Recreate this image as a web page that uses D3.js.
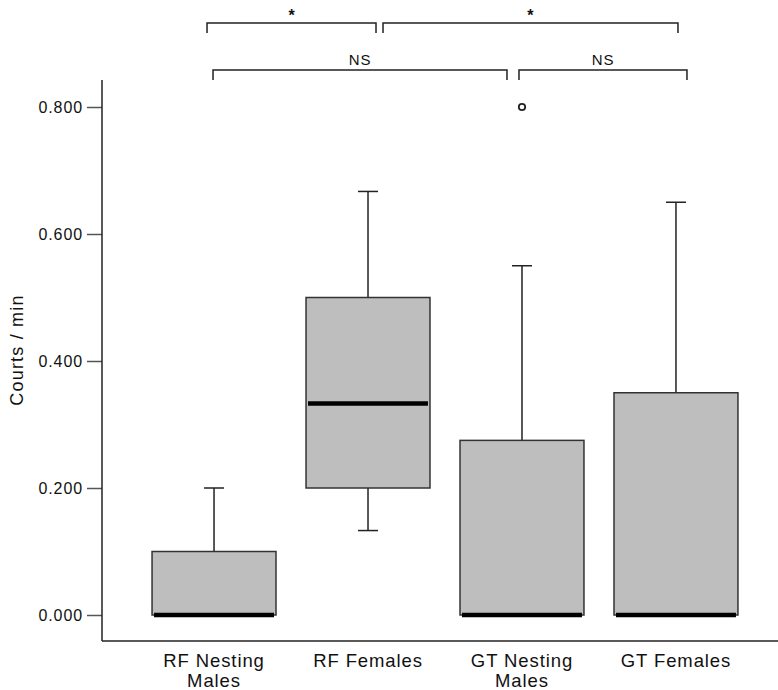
<!DOCTYPE html>
<html>
<head>
<meta charset="utf-8">
<script src="https://cdn.jsdelivr.net/npm/d3@7"></script>
<style>
body { margin: 0; background: #fff; }
text { font-family: "Liberation Sans", Arial, sans-serif; }
</style>
</head>
<body>
<script>
var width = 778, height = 690;

var groups = ["RF Nesting Males", "RF Females", "GT Nesting Males", "GT Females"];
var labelLines = [["RF Nesting", "Males"], ["RF Females"], ["GT Nesting", "Males"], ["GT Females"]];
var q1 = [0, 0.2, 0, 0];
var median = [0, 0.333, 0, 0];
var q3 = [0.1, 0.5, 0.275, 0.35];
var whiskLo = [0, 0.133, 0, 0];
var whiskHi = [0.2, 0.667, 0.55, 0.65];
var outliers = [[], [], [0.8], []];
var yTicks = [0, 0.2, 0.4, 0.6, 0.8];

// comparisons: [from group, to group, row, label]
var comparisons = [
    [0, 1, 0, "*"],
    [1, 3, 0, "*"],
    [0, 2, 1, "NS"],
    [2, 3, 1, "NS"]
];

var svg = d3.select("body")
.append("svg")
.attr("width", width)
.attr("height", height)
.attr("id", "svg");

var x = d3.scaleBand()
.domain(groups)
.range([102, 788])
.paddingInner(0.195)
.paddingOuter(0.325);

var y = d3.scaleLinear()
.domain([0, 0.8])
.range([615, 107]);

var yAxis = d3.axisLeft(y)
.tickValues(yTicks)
.tickFormat(d3.format(".3f"))
.tickSize(15)
.tickSizeOuter(0)
.tickPadding(4);

var axisG = svg.append("g")
.attr("transform", "translate(102,0)")
.call(yAxis);
axisG.select(".domain").remove();
axisG.selectAll(".tick line").attr("stroke", "#555").attr("stroke-width", 1.5);
axisG.selectAll(".tick text")
.attr("font-size", 16)
.attr("letter-spacing", 0.9)
.attr("fill", "#111");

// axis frame lines
svg.append("line")
.attr("x1", 102).attr("x2", 102)
.attr("y1", 80).attr("y2", 641)
.attr("stroke", "#222").attr("stroke-width", 1.5);
svg.append("line")
.attr("x1", 102).attr("x2", width)
.attr("y1", 641).attr("y2", 641)
.attr("stroke", "#222").attr("stroke-width", 1.5);

// y title
svg.append("text")
.attr("transform", "translate(23,350) rotate(-90)")
.attr("text-anchor", "middle")
.attr("font-size", 18)
.attr("letter-spacing", 1.2)
.attr("fill", "#111")
.text("Courts / min");

var bw = x.bandwidth();
var capW = 20;
var boxes = svg.selectAll(".box")
.data(groups)
.enter().append("g")
.attr("class", "box");

boxes.each(function(g, i){
    var sel = d3.select(this);
    var cx = x(g) + bw / 2;
    // whiskers
    if (whiskHi[i] > q3[i]) {
        sel.append("line").attr("x1", cx).attr("x2", cx)
        .attr("y1", y(q3[i])).attr("y2", y(whiskHi[i]))
        .attr("stroke", "#222").attr("stroke-width", 1.5);
        sel.append("line").attr("x1", cx - capW / 2).attr("x2", cx + capW / 2)
        .attr("y1", y(whiskHi[i])).attr("y2", y(whiskHi[i]))
        .attr("stroke", "#222").attr("stroke-width", 1.5);
    }
    if (whiskLo[i] < q1[i]) {
        sel.append("line").attr("x1", cx).attr("x2", cx)
        .attr("y1", y(q1[i])).attr("y2", y(whiskLo[i]))
        .attr("stroke", "#222").attr("stroke-width", 1.5);
        sel.append("line").attr("x1", cx - capW / 2).attr("x2", cx + capW / 2)
        .attr("y1", y(whiskLo[i])).attr("y2", y(whiskLo[i]))
        .attr("stroke", "#222").attr("stroke-width", 1.5);
    }
    sel.append("rect")
    .attr("x", x(g))
    .attr("y", y(q3[i]))
    .attr("width", bw)
    .attr("height", y(q1[i]) - y(q3[i]))
    .attr("fill", "#bebebe")
    .attr("stroke", "#333")
    .attr("stroke-width", 1.5);
    sel.append("line")
    .attr("x1", x(g) + 2).attr("x2", x(g) + bw - 2)
    .attr("y1", y(median[i])).attr("y2", y(median[i]))
    .attr("stroke", "#000").attr("stroke-width", 4.5);
    outliers[i].forEach(function(v){
        sel.append("circle")
        .attr("cx", cx).attr("cy", y(v)).attr("r", 3.2)
        .attr("fill", "none").attr("stroke", "#222").attr("stroke-width", 1.8);
    });
});

// category labels
var labels = svg.selectAll(".cat")
.data(groups)
.enter().append("text")
.attr("class", "cat")
.attr("text-anchor", "middle")
.attr("font-size", 18.5)
.attr("letter-spacing", 0.9)
.attr("fill", "#111")
.attr("x", function(g){ return x(g) + bw / 2; })
.attr("y", 667);
labels.each(function(g, i){
    var t = d3.select(this);
    labelLines[i].forEach(function(line, k){
        t.append("tspan")
        .attr("x", x(g) + bw / 2)
        .attr("dy", k === 0 ? 0 : 20)
        .text(line);
    });
});

// significance brackets
var rowY = [23, 70];
comparisons.forEach(function(c){
    var row = c[2];
    var x1 = x(groups[c[0]]) + bw / 2;
    var x2 = x(groups[c[1]]) + bw / 2;
    if (row === 0 && c[0] === 0) { x1 -= 7; x2 += 8; }
    if (row === 0 && c[0] === 1) { x1 += 15; x2 += 2; }
    if (row === 1 && c[0] === 0) { x1 -= 1; x2 -= 15; }
    if (row === 1 && c[0] === 2) { x1 -= 3; x2 += 11; }
    var yb = rowY[row];
    svg.append("path")
    .attr("d", "M" + x1 + "," + (yb + 10) + "V" + yb + "H" + x2 + "V" + (yb + 10))
    .attr("fill", "none")
    .attr("stroke", "#222")
    .attr("stroke-width", 1.5);
    svg.append("text")
    .attr("x", (x1 + x2) / 2)
    .attr("y", c[3] === "*" ? yb - 2 : yb - 5)
    .attr("text-anchor", "middle")
    .attr("font-size", c[3] === "*" ? 16 : 15)
    .attr("letter-spacing", c[3] === "*" ? 0 : 0.8)
    .attr("font-weight", c[3] === "*" ? "bold" : "normal")
    .attr("fill", "#111")
    .text(c[3]);
});
</script>
</body>
</html>
